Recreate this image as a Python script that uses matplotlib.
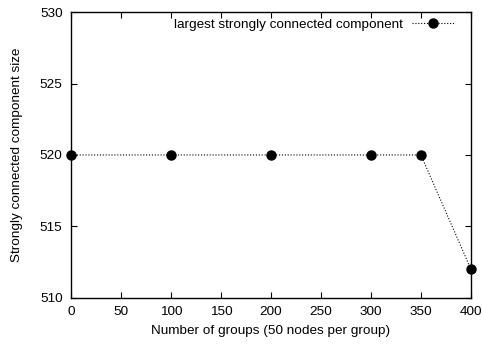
import matplotlib
matplotlib.use("Agg")
import matplotlib.pyplot as plt

groups = [0, 100, 200, 300, 350, 400]
scc_size = [520, 520, 520, 520, 520, 512]

plt.rcParams["font.family"] = ["Liberation Sans", "DejaVu Sans"]
plt.rcParams["font.size"] = 9.7

fig = plt.figure(figsize=(4.83, 3.44), dpi=100)
ax = fig.add_axes([0.147, 0.134, 0.828, 0.831])

ax.plot(groups, scc_size, color="black", linestyle=(0, (1, 1.6)), linewidth=0.8,
        marker="o", markersize=6.5, clip_on=False, zorder=3,
        label="largest strongly connected component")

ax.set_xlim(0, 400)
ax.set_ylim(510, 530)
ax.set_xticks(range(0, 401, 50))
ax.set_yticks(range(510, 531, 5))
ax.tick_params(axis="x", direction="in", top=True, length=4, width=0.8, pad=6)
ax.tick_params(axis="y", direction="in", right=True, length=4, width=0.8, pad=6)
for s in ax.spines.values():
    s.set_linewidth(1.0)

ax.set_xlabel("Number of groups (50 nodes per group)", labelpad=5)
ax.set_ylabel("Strongly connected component size", labelpad=12)

# legend: text first, then line sample (gnuplot style)
ax.legend(loc="upper right", bbox_to_anchor=(0.972, 1.0), frameon=False,
          markerfirst=False, handlelength=3.1, borderaxespad=0.25,
          handletextpad=0.7, borderpad=0.2)

plt.savefig("out.png", dpi=100)
plt.close()
